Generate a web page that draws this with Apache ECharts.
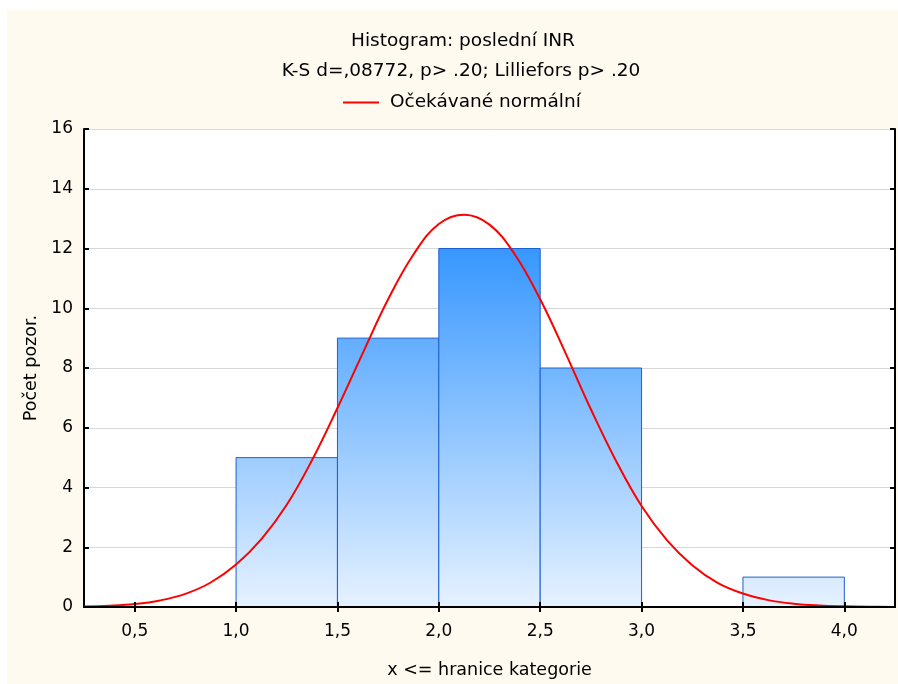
<!DOCTYPE html>
<html>
<head>
<meta charset="utf-8">
<script src="https://cdn.jsdelivr.net/npm/echarts@6/dist/echarts.min.js"></script>
<style>
  html, body { margin: 0; padding: 0; background: #fff; overflow: hidden; }
  #chart {
    width: 898px; height: 684px;
    background: #fefaf0;
    box-shadow: inset 7px 10px 0 #fff;
  }
</style>
</head>
<body>
<div id="chart"></div>
<script>
// histogram bins: lower edge, upper edge, count
var binStart = [1.0, 1.5, 2.0, 2.5, 3.0, 3.5];
var binEnd   = [1.5, 2.0, 2.5, 3.0, 3.5, 4.0];
var counts   = [5, 9, 12, 8, 0, 1];

// expected normal curve (step 0.125)
var curveX = [0.25, 0.375, 0.5, 0.625, 0.75, 0.875, 1.0, 1.125, 1.25, 1.375, 1.5, 1.625, 1.75, 1.875, 2.0, 2.125,
              2.25, 2.375, 2.5, 2.625, 2.75, 2.875, 3.0, 3.125, 3.25, 3.375, 3.5, 3.625, 3.75, 3.875, 4.0, 4.125, 4.25];
var curveY = [0.02, 0.045, 0.1, 0.22, 0.44, 0.82, 1.42, 2.27, 3.42, 4.92, 6.66, 8.5, 10.3, 11.8, 12.82, 13.13,
              12.8, 11.8, 10.3, 8.5, 6.62, 4.88, 3.38, 2.24, 1.4, 0.81, 0.45, 0.23, 0.11, 0.05, 0.022, 0.008, 0.003];

var xTicks = [0.5, 1.0, 1.5, 2.0, 2.5, 3.0, 3.5, 4.0];

var fontFam = 'DejaVu Sans';

var bars = binStart.map(function (s, i) { return [s, binEnd[i], counts[i]]; });
var curve = curveX.map(function (x, i) { return [x, curveY[i]]; });
var maxCount = Math.max.apply(null, counts);

var myChart = echarts.init(document.getElementById('chart'));

var option = {
  animation: false,
  title: [
    {
      text: 'Histogram: poslední INR',
      left: 463, textAlign: 'center', top: 31, padding: 0,
      textStyle: { fontFamily: fontFam, fontSize: 18.5, fontWeight: 'normal', color: '#000', lineHeight: 20 }
    },
    {
      text: 'K-S d=,08772, p> .20; Lilliefors p> .20',
      left: 461, textAlign: 'center', top: 61, padding: 0,
      textStyle: { fontFamily: fontFam, fontSize: 18.5, fontWeight: 'normal', color: '#000', lineHeight: 20 }
    }
  ],
  legend: {
    top: 88, left: 338,
    icon: 'rect', itemWidth: 36, itemHeight: 2, itemGap: 10,
    textStyle: { fontFamily: fontFam, fontSize: 18.5, color: '#000', padding: [0, 0, 0, 6] },
    data: ['Očekávané normální']
  },
  grid: { left: 84, right: 3, top: 129, bottom: 77, show: true, backgroundColor: '#fff', borderWidth: 0 },
  xAxis: [
    {
      type: 'value', min: 0.25, max: 4.25, position: 'bottom', z: 5,
      name: 'x <= hranice kategorie', nameLocation: 'middle', nameGap: 54,
      nameTextStyle: { fontFamily: fontFam, fontSize: 17.5, color: '#000' },
      axisLine: { show: true, lineStyle: { color: '#000', width: 2 } },
      axisTick: { show: true, inside: true, length: 5, customValues: xTicks, lineStyle: { color: '#000', width: 2 } },
      axisLabel: {
        customValues: xTicks, margin: 16,
        fontFamily: fontFam, fontSize: 17, color: '#000',
        formatter: function (v) { return v.toFixed(1).replace('.', ','); }
      },
      splitLine: { show: false }
    },
    {
      type: 'value', min: 0.25, max: 4.25, position: 'top', z: 5,
      axisLine: { show: true, lineStyle: { color: '#000', width: 2 } },
      axisTick: { show: true, inside: true, length: 5, customValues: xTicks, lineStyle: { color: '#000', width: 2 } },
      axisLabel: { show: false },
      splitLine: { show: false }
    }
  ],
  yAxis: [
    {
      type: 'value', min: 0, max: 16, interval: 2, position: 'left',
      name: 'Počet pozor.', nameLocation: 'middle', nameGap: 43,
      nameTextStyle: { fontFamily: fontFam, fontSize: 17.5, color: '#000' },
      axisLine: { show: true, lineStyle: { color: '#000', width: 2 } },
      axisTick: { show: true, inside: true, length: 5, lineStyle: { color: '#000', width: 2 } },
      axisLabel: { margin: 11, fontFamily: fontFam, fontSize: 17, color: '#000' },
      splitLine: { show: true, lineStyle: { color: '#d8d8d8', width: 1 } }
    },
    {
      type: 'value', min: 0, max: 16, interval: 2, position: 'right', z: 5,
      axisLine: { show: true, lineStyle: { color: '#000', width: 2 } },
      axisTick: { show: true, inside: true, length: 5, lineStyle: { color: '#000', width: 2 } },
      axisLabel: { show: false },
      splitLine: { show: false }
    }
  ],
  series: [
    {
      name: 'Počet',
      type: 'custom',
      z: 2,
      data: bars,
      encode: { x: [0, 1], y: 2 },
      renderItem: function (params, api) {
        var topLeft = api.coord([api.value(0), api.value(2)]);
        var botRight = api.coord([api.value(1), 0]);
        var gTop = api.coord([0, maxCount])[1];
        var gBot = api.coord([0, 0])[1];
        return {
          type: 'rect',
          shape: {
            x: topLeft[0], y: topLeft[1],
            width: botRight[0] - topLeft[0], height: botRight[1] - topLeft[1]
          },
          style: {
            fill: new echarts.graphic.LinearGradient(0, gTop, 0, gBot, [
              { offset: 0, color: '#3797ff' },
              { offset: 1, color: '#e6f2ff' }
            ], true),
            stroke: '#1d5fd0',
            lineWidth: 1
          }
        };
      }
    },
    {
      name: 'Očekávané normální',
      type: 'line',
      z: 3,
      data: curve,
      smooth: 0.4,
      symbol: 'none',
      lineStyle: { color: '#ff0000', width: 2 },
      itemStyle: { color: '#ff0000' }
    }
  ]
};
myChart.setOption(option);
</script>
</body>
</html>
